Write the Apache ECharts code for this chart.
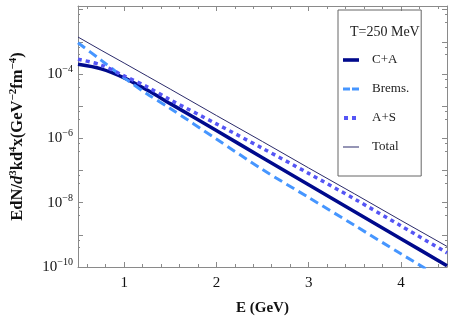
<!DOCTYPE html>
<html>
<head>
<meta charset="utf-8">
<script src="https://cdn.jsdelivr.net/npm/echarts@6/dist/echarts.min.js"></script>
<style>
  html, body { margin: 0; padding: 0; background: #fff; }
  #chart { width: 463px; height: 327px; }
</style>
</head>
<body>
<div id="chart"></div>
<script>
// photon energy (GeV)
var energies = [0.5, 0.75, 1.0, 1.25, 1.5, 2.0, 2.5, 3.0, 3.5, 4.0, 4.5];
// rates
var caVals    = [2.00e-4, 1.45e-4, 7.6e-5, 3.16e-5, 1.20e-5, 1.74e-6, 2.51e-7, 3.63e-8, 5.25e-9, 7.59e-10, 1.10e-10];
var bremsVals = [9.33e-4, 2.69e-4, 7.59e-5, 2.40e-5, 8.51e-6, 9.55e-7, 1.07e-7, 1.45e-8, 1.95e-9, 2.57e-10, 3.55e-11];
var asVals    = [2.88e-4, 1.91e-4, 8.7e-5, 3.98e-5, 1.58e-5, 2.82e-6, 4.90e-7, 8.13e-8, 1.29e-8, 1.91e-9, 2.75e-10];
var totalVals = [1.41e-3, 5.5e-4, 2.19e-4, 8.6e-5, 3.39e-5, 5.13e-6, 7.94e-7, 1.20e-7, 1.86e-8, 2.82e-9, 4.37e-10];
var seriesNames = ['C+A', 'Brems.', 'A+S', 'Total'];
var yLabelExps = [-4, -6, -8, -10];

var serif = 'Liberation Serif';
var frameColor = '#8a8a8a';

// legend glyphs (16x14 box, line drawn in the middle)
var legendIcons = {
	'C+A': 'path://M0,0 M16,14 M0,5.2 L16,5.2 L16,8.8 L0,8.8 Z',
	'Brems.': 'path://M0,0 M16,14 M0,5.5 L7,5.5 L7,8.5 L0,8.5 Z M9,5.5 L16,5.5 L16,8.5 L9,8.5 Z',
	'A+S': 'path://M0,0 M16,14 M1,5 L5,5 L5,9 L1,9 Z M9,5 L13,5 L13,9 L9,9 Z',
	'Total': 'path://M0,0 M16,14 M0,6.5 L16,6.5 L16,7.5 L0,7.5 Z'
};

function pairs(vals) {
	var out = [];
	for (var i = 0; i < vals.length; i++) {
		out.push([energies[i], vals[i]]);
	}
	return out;
}

function yLabel(v) {
	var e = Math.log(v) / Math.LN10;
	var r = Math.round(e);
	if (Math.abs(e - r) > 1e-6 || yLabelExps.indexOf(r) < 0) {
		return '';
	}
	return '{b|10}{s|\u2212' + Math.abs(r) + '}';
}

function xLabel(v) {
	if (Math.abs(v - Math.round(v)) > 1e-6) return '';
	return String(Math.round(v));
}

var legendData = [];
for (var k = 0; k < seriesNames.length; k++) {
	legendData.push({ name: seriesNames[k], icon: legendIcons[seriesNames[k]] });
}

var xBase = {
	type: 'value',
	min: 0.5,
	max: 4.5,
	splitNumber: 4,
	axisLine: { show: true, onZero: false, lineStyle: { color: frameColor, width: 1 } },
	axisTick: { show: true, inside: true, length: 5, lineStyle: { color: frameColor } },
	minorTick: { show: true, splitNumber: 5, length: 3, lineStyle: { color: frameColor } },
	splitLine: { show: false }
};
var yBase = {
	type: 'log',
	logBase: 10,
	min: 1e-10,
	max: 1.3e-2,
	splitNumber: 8,
	axisLine: { show: true, onZero: false, lineStyle: { color: frameColor, width: 1 } },
	axisTick: { show: true, inside: true, length: 5, lineStyle: { color: frameColor } },
	minorTick: { show: true, splitNumber: 3, length: 2, lineStyle: { color: frameColor } },
	splitLine: { show: false }
};

var chart = echarts.init(document.getElementById('chart'), null, { renderer: 'canvas' });
var option = {
	animation: false,
	backgroundColor: '#fff',
	grid: { left: 74, right: 16, top: 6, bottom: 60, containLabel: false },
	title: {
		text: 'T=250 MeV',
		left: 345,
		top: 20,
		textStyle: { fontFamily: serif, fontSize: 14, fontWeight: 'normal', color: '#222' }
	},
	legend: {
		orient: 'vertical',
		left: 338,
		top: 10,
		data: legendData,
		itemWidth: 16,
		itemHeight: 14,
		itemGap: 15,
		symbolKeepAspect: false,
		padding: [43, 12, 22, 5],
		borderColor: '#666',
		borderWidth: 1,
		itemStyle: { borderWidth: 0 },
		textStyle: { fontFamily: serif, fontSize: 13, color: '#222', padding: [0, 0, 0, 8] }
	},
	xAxis: [
		echarts.util.merge({
			position: 'bottom',
			name: 'E (GeV)',
			nameLocation: 'middle',
			nameGap: 34,
			nameTextStyle: { fontFamily: serif, fontSize: 15, fontWeight: 'bold', color: '#111' },
			axisLabel: { show: true, formatter: xLabel, margin: 9, fontFamily: serif, fontSize: 15, color: '#111',
				showMinLabel: false, showMaxLabel: false }
		}, xBase, true),
		echarts.util.merge({
			position: 'top',
			axisLabel: { show: false }
		}, xBase, true)
	],
	yAxis: [
		echarts.util.merge({
			position: 'left',
			name: '{b|EdN/}{i|d}{s|3}{b|kd}{s|4}{b|x(GeV}{s|\u22122}{b|fm}{s|\u22124}{b|)}',
			nameLocation: 'middle',
			nameGap: 50,
			nameTextStyle: {
				rich: {
					b: { fontFamily: serif, fontSize: 16.5, fontWeight: 'bold', color: '#111' },
					i: { fontFamily: serif, fontSize: 16.5, fontWeight: 'bold', fontStyle: 'italic', color: '#111' },
					s: { fontFamily: serif, fontSize: 11, fontWeight: 'bold', color: '#111', padding: [0, 0, 9, 0] }
				}
			},
			axisLabel: {
				show: true,
				formatter: yLabel,
				margin: 5,
				showMinLabel: true,
				showMaxLabel: false,
				rich: {
					b: { fontFamily: serif, fontSize: 15, color: '#111' },
					s: { fontFamily: serif, fontSize: 10, color: '#111', padding: [0, 0, 9, 0] }
				}
			}
		}, yBase, true),
		echarts.util.merge({
			position: 'right',
			axisLabel: { show: false }
		}, yBase, true)
	],
	series: [{
		name: 'C+A',
		type: 'line',
		data: pairs(caVals),
		symbol: 'none',
		smooth: 0.3,
		lineStyle: { color: '#000a8c', width: 3.5 },
		itemStyle: { color: '#000a8c' }
	}, {
		name: 'Brems.',
		type: 'line',
		data: pairs(bremsVals),
		symbol: 'none',
		smooth: 0.3,
		lineStyle: { color: '#4696ff', width: 3, type: [9, 5] },
		itemStyle: { color: '#4696ff' }
	}, {
		name: 'A+S',
		type: 'line',
		data: pairs(asVals),
		symbol: 'none',
		smooth: 0.3,
		lineStyle: { color: '#5555f5', width: 3.5, type: [4, 4] },
		itemStyle: { color: '#5555f5' }
	}, {
		name: 'Total',
		type: 'line',
		data: pairs(totalVals),
		symbol: 'none',
		smooth: false,
		lineStyle: { color: '#2b2b6b', width: 1 },
		itemStyle: { color: '#2b2b6b' }
	}]
};
chart.setOption(option);
</script>
</body>
</html>
